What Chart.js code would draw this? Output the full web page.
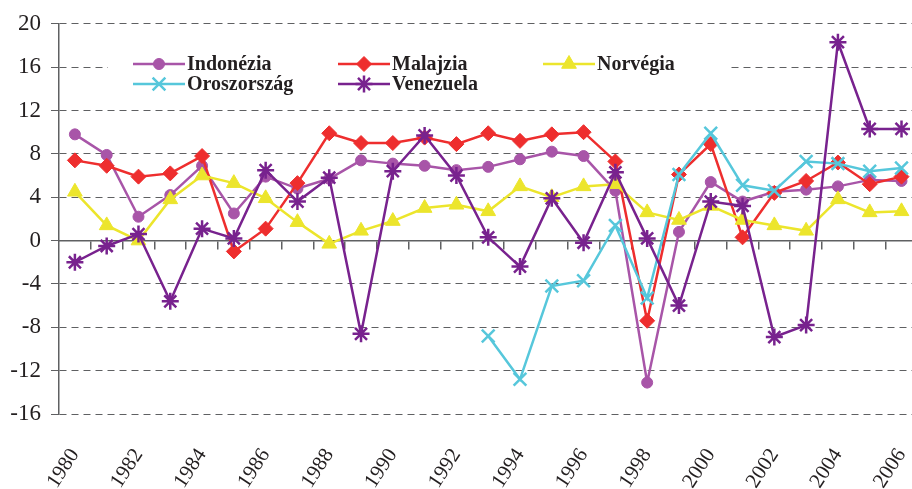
<!DOCTYPE html>
<html><head><meta charset="utf-8">
<script src="https://cdn.jsdelivr.net/npm/chart.js@4"></script>
<style>html,body{margin:0;padding:0;background:#fff;overflow:hidden}#wrap{width:912px;height:489px;position:relative}</style>
</head><body><div id="wrap"><canvas id="c"></canvas></div>
<script>
const years = [1980,1981,1982,1983,1984,1985,1986,1987,1988,1989,1990,1991,1992,1993,1994,1995,1996,1997,1998,1999,2000,2001,2002,2003,2004,2005,2006];
const xTickLabels = [1980,1982,1984,1986,1988,1990,1992,1994,1996,1998,2000,2002,2004,2006];
const yTickValues = [-16,-12,-8,-4,0,4,8,12,16,20];
const seriesNames = ['Indonézia','Malajzia','Norvégia','Oroszország','Venezuela'];
const indonezia = [9.8,7.9,2.2,4.2,6.9,2.5,5.9,4.8,5.7,7.4,7.1,6.9,6.5,6.8,7.5,8.2,7.8,4.6,-13.1,0.8,5.4,3.6,4.5,4.7,5.0,5.6,5.5];
const malajzia = [7.4,6.9,5.9,6.2,7.8,-1.0,1.1,5.3,9.9,9.0,9.0,9.5,8.9,9.9,9.2,9.8,10.0,7.3,-7.4,6.1,8.9,0.3,4.4,5.5,7.2,5.2,5.9];
const norvegia = [4.5,1.4,0.0,3.8,6.0,5.3,3.9,1.7,-0.3,0.9,1.8,3.0,3.3,2.7,5.0,4.0,5.0,5.2,2.6,1.9,3.2,1.9,1.4,0.9,3.8,2.6,2.7];
const oroszorszag = [null,null,null,null,null,null,null,null,null,null,null,null,null,-8.8,-12.8,-4.2,-3.7,1.4,-5.3,6.1,9.9,5.1,4.6,7.3,7.1,6.4,6.7];
const venezuela = [-2.0,-0.5,0.6,-5.6,1.1,0.2,6.5,3.6,5.8,-8.6,6.4,9.7,6.0,0.3,-2.4,3.9,-0.2,6.3,0.2,-6.0,3.6,3.2,-8.9,-7.8,18.3,10.3,10.3];

const FONT = '"Liberation Serif","Times New Roman",serif';
const TXT = '#231f20';
const GRID = '#5f6062';
const pts = arr => years.map((y, i) => ({x: y, y: arr[i]}));
const halfYears = years.slice(0, -1).map(y => y + 0.5);

function mk(label, arr, color, style, radius, pbw, order) {
  return {label, data: pts(arr), borderColor: color, backgroundColor: color,
    pointBackgroundColor: color, pointBorderColor: color, pointStyle: style,
    pointRadius: radius, pointBorderWidth: pbw, borderWidth: 2.5, tension: 0,
    spanGaps: false, order};
}

const legendPlugin = {
  id: 'boxLegend',
  beforeDatasetsDraw(chart) {
    const ctx = chart.ctx;
    ctx.save();
    ctx.fillStyle = '#fff';
    ctx.fillRect(108, 50, 620, 48);
    chart.data.datasets.forEach((ds, i) => {
      const col = i % 3, row = Math.floor(i / 3);
      const x0 = 133 + col * 205, y = 64 + row * 20;
      ctx.strokeStyle = ds.borderColor; ctx.lineWidth = ds.borderWidth;
      ctx.setLineDash([]);
      ctx.beginPath(); ctx.moveTo(x0, y); ctx.lineTo(x0 + 52, y); ctx.stroke();
      ctx.fillStyle = ds.pointBackgroundColor; ctx.strokeStyle = ds.pointBorderColor;
      ctx.lineWidth = ds.pointBorderWidth;
      Chart.helpers.drawPoint(ctx, {pointStyle: ds.pointStyle, radius: ds.pointRadius, borderWidth: ds.pointBorderWidth, rotation: 0}, x0 + 26, y);
      ctx.fillStyle = TXT;
      ctx.font = 'bold 20px ' + FONT;
      ctx.textBaseline = 'middle';
      ctx.textAlign = 'left';
      ctx.fillText(ds.label, x0 + 54, y + 1);
    });
    ctx.restore();
  }
};

new Chart(document.getElementById('c'), {
  type: 'line',
  data: {datasets: [
    mk(seriesNames[0], indonezia, '#A855A8', 'circle', 5.5, 1, 5),
    mk(seriesNames[1], malajzia, '#EE2E2E', 'rectRot', 7.5, 1, 4),
    mk(seriesNames[2], norvegia, '#ECE52C', 'triangle', 8.5, 1, 3),
    mk(seriesNames[3], oroszorszag, '#56C7DB', 'crossRot', 9, 2.5, 2),
    mk(seriesNames[4], venezuela, '#78228E', 'star', 8.5, 2.5, 1)
  ]},
  options: {
    responsive: true, maintainAspectRatio: false, animation: false, devicePixelRatio: 1,
    layout: {autoPadding: false, padding: {top: 20, right: 0, bottom: 0, left: 0}},
    plugins: {legend: {display: false}, tooltip: {enabled: false}},
    scales: {
      x: {type: 'linear', min: 1979.5, max: 2006.33,
        afterBuildTicks: s => { s.ticks = xTickLabels.map(v => ({value: v})); },
        ticks: {minRotation: 57, maxRotation: 57, autoSkip: false, padding: 30,
          font: {family: FONT, size: 21}, color: TXT, callback: v => String(v)},
        grid: {display: false, drawTicks: false}, border: {display: false},
        afterFit: s => { s.height = 75; s.paddingLeft = 0; s.paddingRight = 0; }
      },
      x2: {type: 'linear', position: {y: 0}, min: 1979.5, max: 2006.33,
        afterBuildTicks: s => { s.ticks = halfYears.map(v => ({value: v})); },
        ticks: {display: false},
        grid: {drawOnChartArea: false, drawTicks: true, tickLength: 8, color: GRID, lineWidth: 1.5},
        border: {display: true, color: GRID, width: 1.5}
      },
      y: {min: -16, max: 20,
        afterBuildTicks: s => { s.ticks = yTickValues.map(v => ({value: v})); },
        ticks: {padding: 10, font: {family: FONT, size: 23}, color: TXT},
        grid: {color: GRID, lineWidth: 1, drawTicks: true, tickLength: 8, tickColor: GRID},
        border: {display: true, color: GRID, width: 1.5, dash: [7, 5]},
        afterFit: s => { s.width = 59; }
      }
    }
  },
  plugins: [legendPlugin]
});
</script></body></html>
